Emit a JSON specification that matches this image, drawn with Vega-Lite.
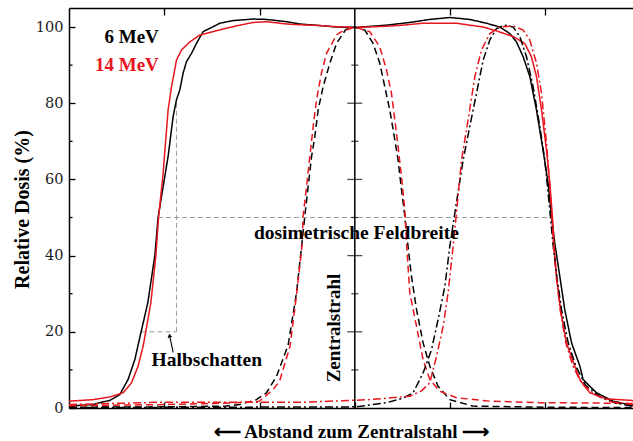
{
  "$schema": "https://vega.github.io/schema/vega-lite/v6.json",
  "width": 564,
  "height": 400,
  "autosize": "none",
  "padding": {"left": 69, "top": 8, "right": 0, "bottom": 33},
  "background": "white",
  "config": {
    "view": {"stroke": null},
    "axis": {"grid": false}
  },
  "datasets": {
    "curves": [
      {"s":"k1","u":-3.0,"v":0.4},{"s":"k1","u":-2.887,"v":0.7},{"s":"k1","u":-2.747,"v":0.9},{"s":"k1","u":-2.677,"v":1.4},{"s":"k1","u":-2.572,"v":2.0},{"s":"k1","u":-2.467,"v":3.5},{"s":"k1","u":-2.38,"v":7.5},{"s":"k1","u":-2.309,"v":12.7},{"s":"k1","u":-2.257,"v":18.5},{"s":"k1","u":-2.173,"v":27.6},{"s":"k1","u":-2.099,"v":40},{"s":"k1","u":-2.065,"v":50},{"s":"k1","u":-2.012,"v":58.1},{"s":"k1","u":-1.96,"v":66},{"s":"k1","u":-1.907,"v":76.5},{"s":"k1","u":-1.872,"v":80.9},{"s":"k1","u":-1.837,"v":83.5},{"s":"k1","u":-1.802,"v":87.9},{"s":"k1","u":-1.767,"v":90.9},{"s":"k1","u":-1.714,"v":93.1},{"s":"k1","u":-1.662,"v":95.7},{"s":"k1","u":-1.592,"v":98.8},{"s":"k1","u":-1.487,"v":100.1},{"s":"k1","u":-1.417,"v":101},{"s":"k1","u":-1.277,"v":101.7},{"s":"k1","u":-1.067,"v":102.1},{"s":"k1","u":-0.927,"v":102},{"s":"k1","u":-0.717,"v":101.4},{"s":"k1","u":-0.577,"v":100.8},{"s":"k1","u":-0.367,"v":100.4},{"s":"k1","u":-0.192,"v":100},{"s":"k1","u":0.018,"v":99.9},{"s":"k1","u":0.333,"v":100.5},{"s":"k1","u":0.577,"v":101.2},{"s":"k1","u":0.787,"v":102},{"s":"k1","u":0.997,"v":102.5},{"s":"k1","u":1.207,"v":102},{"s":"k1","u":1.382,"v":101},{"s":"k1","u":1.522,"v":100},{"s":"k1","u":1.627,"v":98.3},{"s":"k1","u":1.697,"v":96.1},{"s":"k1","u":1.767,"v":92.2},{"s":"k1","u":1.837,"v":87},{"s":"k1","u":1.907,"v":78.2},{"s":"k1","u":1.976,"v":67.7},{"s":"k1","u":2.029,"v":59},{"s":"k1","u":2.065,"v":50.3},{"s":"k1","u":2.099,"v":43.3},{"s":"k1","u":2.152,"v":34.5},{"s":"k1","u":2.204,"v":25.8},{"s":"k1","u":2.275,"v":17.1},{"s":"k1","u":2.362,"v":11},{"s":"k1","u":2.396,"v":7.5},{"s":"k1","u":2.467,"v":5.7},{"s":"k1","u":2.537,"v":4},{"s":"k1","u":2.711,"v":1.8},{"s":"k1","u":2.904,"v":0.7},{"s":"k1","u":2.92,"v":0.6},

      {"s":"r1","u":-3.0,"v":1.8},{"s":"r1","u":-2.747,"v":2.2},{"s":"r1","u":-2.572,"v":2.9},{"s":"r1","u":-2.432,"v":4},{"s":"r1","u":-2.344,"v":6.6},{"s":"r1","u":-2.275,"v":11},{"s":"r1","u":-2.222,"v":16.2},{"s":"r1","u":-2.204,"v":18.7},{"s":"r1","u":-2.141,"v":27.6},{"s":"r1","u":-2.088,"v":40},{"s":"r1","u":-2.06,"v":50},{"s":"r1","u":-2.012,"v":61.6},{"s":"r1","u":-1.96,"v":78.2},{"s":"r1","u":-1.924,"v":84.3},{"s":"r1","u":-1.872,"v":91.3},{"s":"r1","u":-1.819,"v":94},{"s":"r1","u":-1.732,"v":96.1},{"s":"r1","u":-1.627,"v":97.9},{"s":"r1","u":-1.487,"v":98.8},{"s":"r1","u":-1.347,"v":99.7},{"s":"r1","u":-1.207,"v":100.5},{"s":"r1","u":-1.067,"v":101.2},{"s":"r1","u":-0.927,"v":101.4},{"s":"r1","u":-0.717,"v":100.8},{"s":"r1","u":-0.577,"v":100.6},{"s":"r1","u":-0.367,"v":100.4},{"s":"r1","u":-0.192,"v":100.1},{"s":"r1","u":0.018,"v":99.9},{"s":"r1","u":0.333,"v":100.2},{"s":"r1","u":0.507,"v":100.5},{"s":"r1","u":0.717,"v":101},{"s":"r1","u":1.067,"v":101},{"s":"r1","u":1.347,"v":100},{"s":"r1","u":1.487,"v":99},{"s":"r1","u":1.662,"v":97.5},{"s":"r1","u":1.784,"v":95.7},{"s":"r1","u":1.854,"v":92.2},{"s":"r1","u":1.907,"v":87},{"s":"r1","u":1.96,"v":78.2},{"s":"r1","u":2.012,"v":67.7},{"s":"r1","u":2.047,"v":59},{"s":"r1","u":2.075,"v":50},{"s":"r1","u":2.09,"v":43.3},{"s":"r1","u":2.117,"v":34.5},{"s":"r1","u":2.159,"v":25.8},{"s":"r1","u":2.222,"v":17.1},{"s":"r1","u":2.309,"v":11},{"s":"r1","u":2.362,"v":7.5},{"s":"r1","u":2.414,"v":5.7},{"s":"r1","u":2.467,"v":4},{"s":"r1","u":2.642,"v":2.4},{"s":"r1","u":2.904,"v":2},{"s":"r1","u":2.92,"v":1.9},

      {"s":"k2","u":-3.0,"v":0.2},{"s":"k2","u":-2.0,"v":0.3},{"s":"k2","u":-1.35,"v":0.5},{"s":"k2","u":-1.207,"v":0.9},{"s":"k2","u":-1.032,"v":2.2},{"s":"k2","u":-0.927,"v":4},{"s":"k2","u":-0.822,"v":8.3},{"s":"k2","u":-0.7,"v":16.5},{"s":"k2","u":-0.612,"v":30.2},{"s":"k2","u":-0.559,"v":42.4},{"s":"k2","u":-0.525,"v":50.3},{"s":"k2","u":-0.49,"v":58.1},{"s":"k2","u":-0.454,"v":66},{"s":"k2","u":-0.42,"v":71.2},{"s":"k2","u":-0.385,"v":78.2},{"s":"k2","u":-0.333,"v":84.3},{"s":"k2","u":-0.262,"v":90.5},{"s":"k2","u":-0.192,"v":95.7},{"s":"k2","u":-0.094,"v":99.4},{"s":"k2","u":0,"v":100},{"s":"k2","u":0.105,"v":99.2},{"s":"k2","u":0.192,"v":95.7},{"s":"k2","u":0.262,"v":90.5},{"s":"k2","u":0.315,"v":84.3},{"s":"k2","u":0.367,"v":78.2},{"s":"k2","u":0.42,"v":70.4},{"s":"k2","u":0.454,"v":65.1},{"s":"k2","u":0.49,"v":57.3},{"s":"k2","u":0.525,"v":50.3},{"s":"k2","u":0.559,"v":42.4},{"s":"k2","u":0.595,"v":34.5},{"s":"k2","u":0.648,"v":25.8},{"s":"k2","u":0.717,"v":17.1},{"s":"k2","u":0.787,"v":11},{"s":"k2","u":0.874,"v":5.7},{"s":"k2","u":0.997,"v":2.2},{"s":"k2","u":1.239,"v":0.5},{"s":"k2","u":2.0,"v":0.2},{"s":"k2","u":2.92,"v":0.1},

      {"s":"r2","u":-3.0,"v":0.6},{"s":"r2","u":-2.0,"v":0.9},{"s":"r2","u":-1.3,"v":1.3},{"s":"r2","u":-1.0,"v":1.8},{"s":"r2","u":-0.86,"v":4.8},{"s":"r2","u":-0.79,"v":7},{"s":"r2","u":-0.68,"v":16.2},{"s":"r2","u":-0.61,"v":30},{"s":"r2","u":-0.555,"v":42.4},{"s":"r2","u":-0.543,"v":50.3},{"s":"r2","u":-0.507,"v":58.1},{"s":"r2","u":-0.472,"v":66},{"s":"r2","u":-0.437,"v":73.9},{"s":"r2","u":-0.402,"v":80.9},{"s":"r2","u":-0.35,"v":87.9},{"s":"r2","u":-0.297,"v":93.1},{"s":"r2","u":-0.192,"v":97.9},{"s":"r2","u":-0.14,"v":98.8},{"s":"r2","u":0,"v":100},{"s":"r2","u":0.157,"v":98.8},{"s":"r2","u":0.262,"v":94.8},{"s":"r2","u":0.333,"v":88.7},{"s":"r2","u":0.385,"v":82.6},{"s":"r2","u":0.42,"v":75.6},{"s":"r2","u":0.454,"v":68.6},{"s":"r2","u":0.49,"v":60.8},{"s":"r2","u":0.525,"v":52},{"s":"r2","u":0.545,"v":42.4},{"s":"r2","u":0.577,"v":30.2},{"s":"r2","u":0.648,"v":21.4},{"s":"r2","u":0.717,"v":12.7},{"s":"r2","u":0.787,"v":7.5},{"s":"r2","u":0.892,"v":4.4},{"s":"r2","u":1.067,"v":2.7},{"s":"r2","u":1.417,"v":1.8},{"s":"r2","u":1.942,"v":1.4},{"s":"r2","u":2.5,"v":1.3},{"s":"r2","u":2.92,"v":1.2},

      {"s":"k3","u":-3.0,"v":0.1},{"s":"k3","u":-1.5,"v":0.2},{"s":"k3","u":0.018,"v":0.3},{"s":"k3","u":0.333,"v":1.4},{"s":"k3","u":0.5,"v":2.5},{"s":"k3","u":0.612,"v":4},{"s":"k3","u":0.717,"v":9.2},{"s":"k3","u":0.805,"v":15.3},{"s":"k3","u":0.874,"v":23.2},{"s":"k3","u":0.945,"v":31.9},{"s":"k3","u":0.997,"v":42.4},{"s":"k3","u":1.05,"v":51.2},{"s":"k3","u":1.137,"v":65.1},{"s":"k3","u":1.207,"v":73.9},{"s":"k3","u":1.277,"v":82.6},{"s":"k3","u":1.347,"v":91.3},{"s":"k3","u":1.417,"v":96.6},{"s":"k3","u":1.487,"v":99.6},{"s":"k3","u":1.574,"v":100.5},{"s":"k3","u":1.662,"v":100},{"s":"k3","u":1.732,"v":97.5},{"s":"k3","u":1.802,"v":92.2},{"s":"k3","u":1.872,"v":84.3},{"s":"k3","u":1.942,"v":73.9},{"s":"k3","u":1.994,"v":65.1},{"s":"k3","u":2.047,"v":52},{"s":"k3","u":2.08,"v":43},{"s":"k3","u":2.12,"v":34.5},{"s":"k3","u":2.17,"v":25.8},{"s":"k3","u":2.24,"v":17.1},{"s":"k3","u":2.32,"v":11},{"s":"k3","u":2.42,"v":6},{"s":"k3","u":2.58,"v":2.8},{"s":"k3","u":2.75,"v":1.2},{"s":"k3","u":2.92,"v":0.5},

      {"s":"r3","u":-3.0,"v":0.9},{"s":"r3","u":-2.05,"v":1.5},{"s":"r3","u":-0.54,"v":1.5},{"s":"r3","u":0.157,"v":2.2},{"s":"r3","u":0.577,"v":3.1},{"s":"r3","u":0.7,"v":4.5},{"s":"r3","u":0.787,"v":6.6},{"s":"r3","u":0.858,"v":13.6},{"s":"r3","u":0.927,"v":21.4},{"s":"r3","u":0.979,"v":30.2},{"s":"r3","u":1.032,"v":42.4},{"s":"r3","u":1.067,"v":51.2},{"s":"r3","u":1.12,"v":65.1},{"s":"r3","u":1.189,"v":75.6},{"s":"r3","u":1.26,"v":87},{"s":"r3","u":1.33,"v":94},{"s":"r3","u":1.417,"v":98.3},{"s":"r3","u":1.522,"v":100},{"s":"r3","u":1.662,"v":100.3},{"s":"r3","u":1.767,"v":99.2},{"s":"r3","u":1.837,"v":96.6},{"s":"r3","u":1.907,"v":90.5},{"s":"r3","u":1.96,"v":82.6},{"s":"r3","u":2.012,"v":69.5},{"s":"r3","u":2.065,"v":52},{"s":"r3","u":2.085,"v":43},{"s":"r3","u":2.115,"v":34.5},{"s":"r3","u":2.155,"v":25.8},{"s":"r3","u":2.215,"v":17.1},{"s":"r3","u":2.29,"v":11},{"s":"r3","u":2.38,"v":6.5},{"s":"r3","u":2.52,"v":3.5},{"s":"r3","u":2.7,"v":1.6},{"s":"r3","u":2.92,"v":0.9}
    ],
    "guides": [
      {"u": -2.065, "v": 50, "u2": 2.075, "v2": 50},
      {"u": -2.24, "v": 20, "u2": -1.872, "v2": 20},
      {"u": -1.872, "v": 20, "u2": -1.872, "v2": 80.9}
    ],
    "centerTicks": [
      {"v": 20, "k": "major"}, {"v": 40, "k": "major"}, {"v": 60, "k": "major"}, {"v": 80, "k": "major"},
      {"v": 10, "k": "minor"}, {"v": 30, "k": "minor"}, {"v": 50, "k": "minor"}, {"v": 70, "k": "minor"}, {"v": 90, "k": "minor"}
    ],
    "edgeTicks": [
      {"v": 10, "u": -3, "u2": -2.963}, {"v": 30, "u": -3, "u2": -2.963}, {"v": 50, "u": -3, "u2": -2.963},
      {"v": 70, "u": -3, "u2": -2.963}, {"v": 90, "u": -3, "u2": -2.963}
    ]
  },
  "resolve": {"axis": {"x": "independent"}},
  "layer": [
    {
      "data": {"name": "guides"},
      "mark": {"type": "rule", "color": "#9a9a9a", "strokeWidth": 1, "strokeDash": [5, 3]},
      "encoding": {
        "x": {
          "field": "u", "type": "quantitative",
          "scale": {"domain": [-3, 2.92], "nice": false, "zero": false},
          "axis": {
            "orient": "bottom", "values": [-2, -1, 0, 1, 2], "labels": false,
            "tickSize": -6, "tickColor": "#000", "tickWidth": 1.3,
            "domainColor": "#000", "domainWidth": 1.5,
            "title": "⟵     Abstand zum Zentralstahl ⟶",
            "titleFont": "Liberation Serif", "titleFontSize": 19, "titleFontWeight": "bold",
            "titleColor": "#000", "titleY": 29, "titleBaseline": "alphabetic"
          }
        },
        "x2": {"field": "u2"},
        "y": {
          "field": "v", "type": "quantitative",
          "scale": {"domain": [0, 105], "nice": false, "zero": false},
          "axis": {
            "values": [0, 20, 40, 60, 80, 100],
            "tickSize": -6, "tickColor": "#000", "tickWidth": 1.3,
            "domainColor": "#000", "domainWidth": 1.5,
            "labelFont": "DejaVu Serif", "labelFontSize": 14.5, "labelColor": "#1a1a1a",
            "labelPadding": 12,
            "title": "Relative Dosis (%)",
            "titleFont": "Liberation Serif", "titleFontSize": 20, "titleFontWeight": "bold",
            "titleColor": "#000", "titleX": -47, "titleY": 201, "titleBaseline": "middle"
          }
        },
        "y2": {"field": "v2"}
      }
    },
    {
      "data": {"values": [{"u": 0, "v": 0, "v2": 105}]},
      "mark": {"type": "rule", "color": "#000", "strokeWidth": 1.5},
      "encoding": {
        "x": {"field": "u", "type": "quantitative", "axis": null},
        "y": {"field": "v", "type": "quantitative"},
        "y2": {"field": "v2"}
      }
    },
    {
      "data": {"name": "edgeTicks"},
      "mark": {"type": "rule", "color": "#000", "strokeWidth": 1.3},
      "encoding": {
        "x": {"field": "u", "type": "quantitative", "axis": null},
        "x2": {"field": "u2"},
        "y": {"field": "v", "type": "quantitative"}
      }
    },
    {
      "data": {"name": "centerTicks"},
      "transform": [{"filter": "datum.k === 'major'"}],
      "mark": {"type": "tick", "orient": "horizontal", "color": "#000", "size": 15, "thickness": 1.3},
      "encoding": {
        "x": {"datum": 0, "type": "quantitative", "axis": null},
        "y": {"field": "v", "type": "quantitative"}
      }
    },
    {
      "data": {"name": "centerTicks"},
      "transform": [{"filter": "datum.k === 'minor'"}],
      "mark": {"type": "tick", "orient": "horizontal", "color": "#000", "size": 7, "thickness": 1.3},
      "encoding": {
        "x": {"datum": 0, "type": "quantitative", "axis": null},
        "y": {"field": "v", "type": "quantitative"}
      }
    },
    {
      "data": {"name": "curves"},
      "mark": {"type": "line", "strokeWidth": 1.5, "clip": true},
      "encoding": {
        "x": {
          "field": "u", "type": "quantitative",
          "axis": {
            "orient": "top", "values": [-2, -1, 1, 2], "labels": false,
            "tickSize": -7, "tickColor": "#000", "tickWidth": 1.3,
            "domainColor": "#000", "domainWidth": 1.5, "title": null
          }
        },
        "y": {"field": "v", "type": "quantitative"},
        "color": {
          "field": "s", "type": "nominal", "legend": null,
          "scale": {"domain": ["k1", "k2", "k3", "r1", "r2", "r3"], "range": ["#000000", "#000000", "#000000", "#e8161e", "#e8161e", "#e8161e"]}
        },
        "strokeDash": {
          "field": "s", "type": "nominal", "legend": null,
          "scale": {"domain": ["k1", "k2", "k3", "r1", "r2", "r3"], "range": [[1, 0], [7, 4], [8, 3, 2, 3], [1, 0], [7, 4], [8, 3, 2, 3]]}
        }
      }
    },
    {
      "data": {"values": [{"t": "6 MeV", "u": -2.057, "v": 95.8}]},
      "mark": {"type": "text", "align": "right", "baseline": "alphabetic", "font": "Liberation Serif", "fontSize": 19, "fontWeight": "bold", "color": "#000"},
      "encoding": {
        "x": {"field": "u", "type": "quantitative", "axis": null},
        "y": {"field": "v", "type": "quantitative"},
        "text": {"field": "t"}
      }
    },
    {
      "data": {"values": [{"t": "14 MeV", "u": -2.057, "v": 88.5}]},
      "mark": {"type": "text", "align": "right", "baseline": "alphabetic", "font": "Liberation Serif", "fontSize": 19, "fontWeight": "bold", "color": "#e8161e"},
      "encoding": {
        "x": {"field": "u", "type": "quantitative", "axis": null},
        "y": {"field": "v", "type": "quantitative"},
        "text": {"field": "t"}
      }
    },
    {
      "data": {"values": [
        {"t": "dosimetrische Feldbreite", "u": 0.016, "v": 44.4},
        {"t": "Halbschatten", "u": -1.553, "v": 10.9}
      ]},
      "mark": {"type": "text", "align": "center", "baseline": "alphabetic", "font": "Liberation Serif", "fontSize": 19.5, "fontWeight": "bold", "color": "#000"},
      "encoding": {
        "x": {"field": "u", "type": "quantitative", "axis": null},
        "y": {"field": "v", "type": "quantitative"},
        "text": {"field": "t"}
      }
    },
    {
      "data": {"values": [{"t": "Zentralstrahl", "u": -0.22, "v": 21.0}]},
      "mark": {"type": "text", "align": "center", "baseline": "middle", "angle": 270, "font": "Liberation Serif", "fontSize": 19, "fontWeight": "bold", "color": "#000"},
      "encoding": {
        "x": {"field": "u", "type": "quantitative", "axis": null},
        "y": {"field": "v", "type": "quantitative"},
        "text": {"field": "t"}
      }
    },
    {
      "data": {"values": [{"u": -1.907, "v": 14.6, "u2": -1.945, "v2": 19.2}]},
      "mark": {"type": "rule", "color": "#000", "strokeWidth": 1.1},
      "encoding": {
        "x": {"field": "u", "type": "quantitative", "axis": null},
        "y": {"field": "v", "type": "quantitative"},
        "x2": {"field": "u2"},
        "y2": {"field": "v2"}
      }
    },
    {
      "data": {"values": [{"u": -1.945, "v": 19.0}]},
      "mark": {"type": "point", "shape": "triangle-up", "filled": true, "color": "#000", "size": 22, "angle": -12, "opacity": 1},
      "encoding": {
        "x": {"field": "u", "type": "quantitative", "axis": null},
        "y": {"field": "v", "type": "quantitative"}
      }
    }
  ]
}
